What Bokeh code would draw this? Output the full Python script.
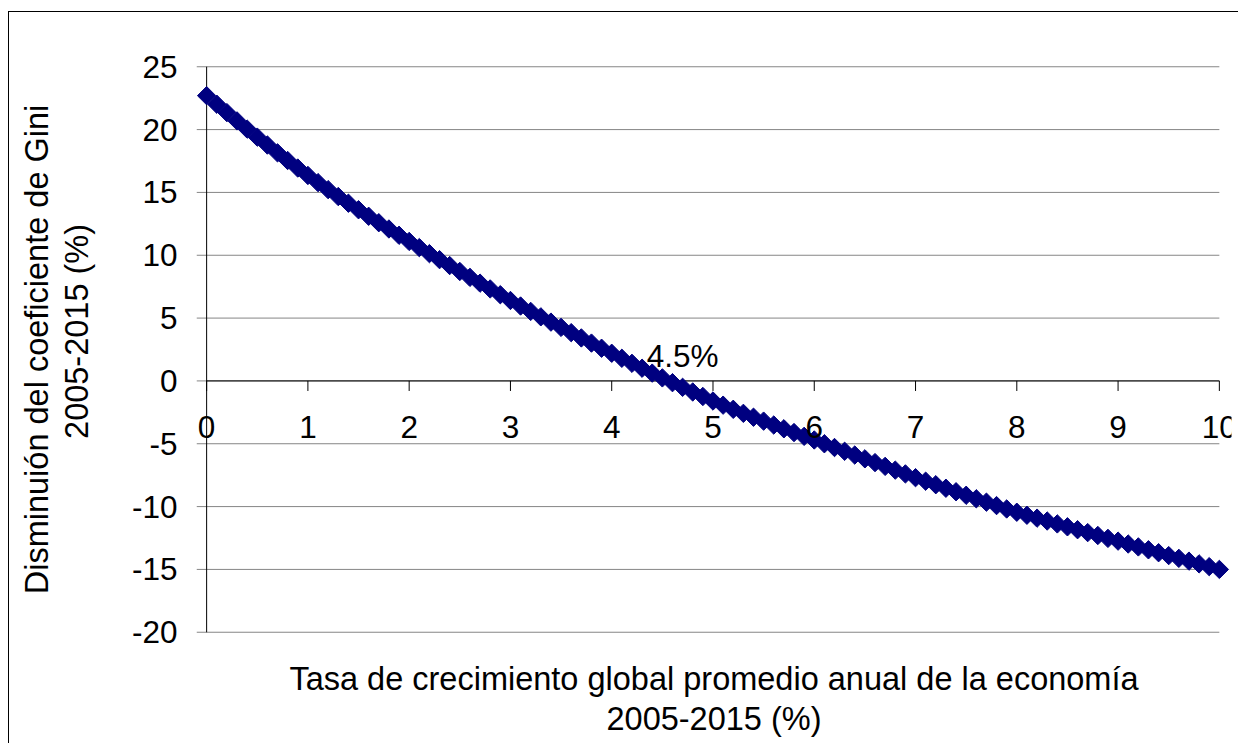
import numpy as np
from bokeh.plotting import figure
from bokeh.models import Range1d, FixedTicker, ColumnDataSource, LabelSet, Label, LinearAxis
from bokeh.embed import file_html
from bokeh.resources import INLINE
from bokeh.core.properties import value

# ---------------- data ----------------
growth_rate = [
    0.0, 0.1, 0.2, 0.3, 0.4, 0.5, 0.6, 0.7, 0.8, 0.9,
    1.0, 1.1, 1.2, 1.3, 1.4, 1.5, 1.6, 1.7, 1.8, 1.9,
    2.0, 2.1, 2.2, 2.3, 2.4, 2.5, 2.6, 2.7, 2.8, 2.9,
    3.0, 3.1, 3.2, 3.3, 3.4, 3.5, 3.6, 3.7, 3.8, 3.9,
    4.0, 4.1, 4.2, 4.3, 4.4, 4.5, 4.6, 4.7, 4.8, 4.9,
    5.0, 5.1, 5.2, 5.3, 5.4, 5.5, 5.6, 5.7, 5.8, 5.9,
    6.0, 6.1, 6.2, 6.3, 6.4, 6.5, 6.6, 6.7, 6.8, 6.9,
    7.0, 7.1, 7.2, 7.3, 7.4, 7.5, 7.6, 7.7, 7.8, 7.9,
    8.0, 8.1, 8.2, 8.3, 8.4, 8.5, 8.6, 8.7, 8.8, 8.9,
    9.0, 9.1, 9.2, 9.3, 9.4, 9.5, 9.6, 9.7, 9.8, 9.9,
    10.0,
]
gini_decline = [
    22.70, 22.02, 21.35, 20.69, 20.04, 19.40, 18.77, 18.15, 17.54, 16.94,
    16.35, 15.78, 15.22, 14.67, 14.14, 13.62, 13.10, 12.59, 12.09, 11.59,
    11.10, 10.61, 10.13, 9.65, 9.18, 8.71, 8.24, 7.78, 7.32, 6.86,
    6.40, 5.96, 5.53, 5.10, 4.68, 4.26, 3.84, 3.42, 3.01, 2.60,
    2.20, 1.80, 1.40, 1.01, 0.62, 0.24, -0.14, -0.51, -0.88, -1.24,
    -1.60, -1.93, -2.26, -2.58, -2.89, -3.20, -3.51, -3.81, -4.11, -4.41,
    -4.70, -5.00, -5.30, -5.60, -5.90, -6.20, -6.50, -6.80, -7.10, -7.40,
    -7.70, -7.98, -8.26, -8.54, -8.82, -9.10, -9.38, -9.65, -9.92, -10.19,
    -10.45, -10.69, -10.92, -11.15, -11.38, -11.61, -11.84, -12.07, -12.30, -12.53,
    -12.75, -12.98, -13.21, -13.44, -13.67, -13.90, -14.12, -14.34, -14.56, -14.78,
    -15.00,
]
x_ticks = [0, 1, 2, 3, 4, 5, 6, 7, 8, 9, 10]
x_tick_labels = ["0", "1", "2", "3", "4", "5", "6", "7", "8", "9", "10"]
y_ticks = [-20, -15, -10, -5, 0, 5, 10, 15, 20, 25]
y_tick_labels = ["-20", "-15", "-10", "-5", "0", "5", "10", "15", "20", "25"]
annotation_text = "4.5%"
annotation_x = 4.7
annotation_y = 2.0
x_title = "Tasa de crecimiento global promedio anual de la economía\n2005-2015 (%)"
y_title = "Disminuión del coeficiente de Gini\n\u00a0\u00a0\u00a0\u00a02005-2015 (%)"

# ---------------- styling ----------------
FONT = "Liberation Sans"
NAVY = "#000080"
GRID = "#868686"
TICK_FS = "31.5px"
TITLE_FS = "32.5px"

p = figure(
    width=1230, height=732,
    x_range=Range1d(-0.1, 10.12), y_range=Range1d(-20.1, 25.1),
    output_backend="svg", toolbar_location=None,
    x_axis_location=None, y_axis_location=None,
    min_border_left=187, min_border_right=8, min_border_top=53, min_border_bottom=111,
    background_fill_color="white", border_fill_color="white",
    outline_line_color=None,
)
p.styles = {"margin-left": "8px", "margin-top": "11px",
            "border-left": "1px solid black", "border-top": "1px solid black"}
for g in p.grid:
    g.visible = False

yaxis = LinearAxis(
    ticker=FixedTicker(ticks=y_ticks),
    major_label_overrides={t: s for t, s in zip(y_ticks, y_tick_labels)},
    axis_line_color=None, major_tick_in=0, major_tick_out=0,
    minor_tick_line_color=None,
    major_label_standoff=19,
    major_label_text_font=FONT, major_label_text_font_size=TICK_FS,
    major_label_text_color="black",
    axis_label=y_title, axis_label_text_font=FONT,
    axis_label_text_font_size=TITLE_FS, axis_label_text_font_style="normal",
    axis_label_text_color="black",
    axis_label_standoff=34, axis_label_text_line_height=1.1,
)
p.add_layout(yaxis, "left")

xaxis = LinearAxis(
    ticker=FixedTicker(ticks=[]),
    axis_line_color=None, major_tick_in=0, major_tick_out=0,
    minor_tick_line_color=None, major_label_standoff=0,
    axis_label=x_title, axis_label_text_font=FONT,
    axis_label_text_font_size=TITLE_FS, axis_label_text_font_style="normal",
    axis_label_text_color="black",
    axis_label_standoff=27, axis_label_text_line_height=1.12,
)
p.add_layout(xaxis, "below")

n_y = len(y_ticks)
n_x = len(x_ticks)

# horizontal gridlines (extend left past the y axis like tick marks)
p.segment(x0=[-0.1] * n_y, x1=[x_ticks[-1]] * n_y, y0=y_ticks, y1=y_ticks,
          line_color=GRID, line_width=1)
# y axis line at x = 0
p.segment(x0=[x_ticks[0]], x1=[x_ticks[0]], y0=[y_ticks[0]], y1=[y_ticks[-1]],
          line_color="black", line_width=1)
# x axis line at y = 0 and its tick marks
p.segment(x0=[x_ticks[0]], x1=[x_ticks[-1]], y0=[0], y1=[0],
          line_color="black", line_width=1)
p.segment(x0=x_ticks, x1=x_ticks, y0=[0] * n_x, y1=[-0.8] * n_x,
          line_color="black", line_width=1)

# data markers (diamonds)
p.scatter(growth_rate, gini_decline, marker="square", angle=np.pi / 4, size=13,
          fill_color=NAVY, line_color=NAVY, line_width=1)

# x tick labels below the crossing axis
tick_src = ColumnDataSource(dict(x=x_ticks, y=[0] * n_x, t=x_tick_labels))
p.add_layout(LabelSet(x="x", y="y", text="t", source=tick_src,
                      text_align="center", text_baseline="middle", y_offset=-46,
                      text_font=value(FONT), text_font_size=value(TICK_FS),
                      text_color="black"))

p.add_layout(Label(x=annotation_x, y=annotation_y, text=annotation_text,
                   text_align="center", text_baseline="middle",
                   text_font=FONT, text_font_size=TICK_FS, text_color="black"))

open("out.html", "w").write(file_html(p, INLINE))
